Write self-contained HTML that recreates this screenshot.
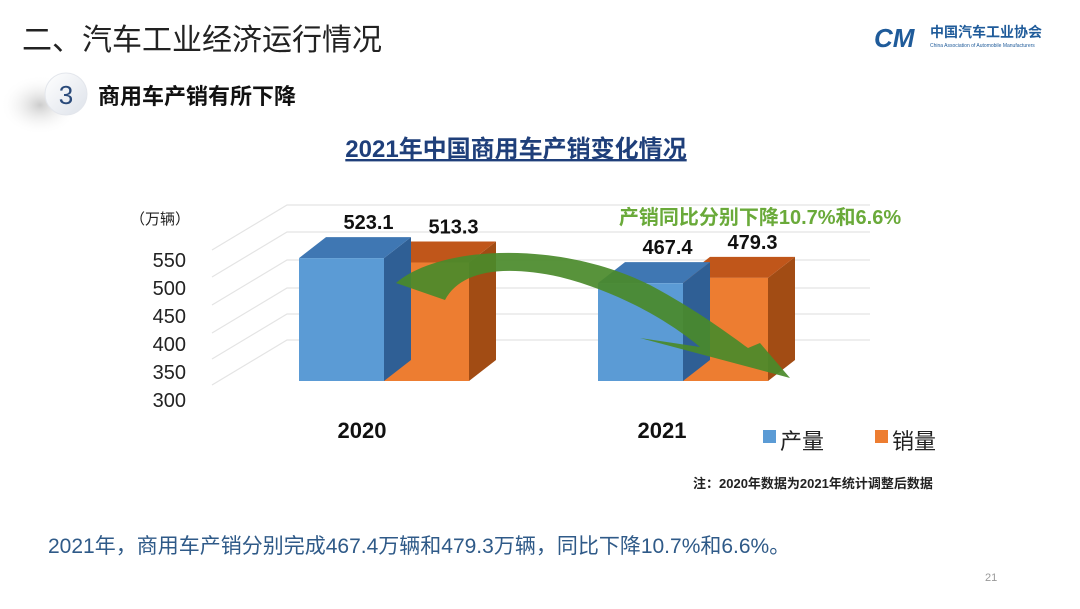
<!DOCTYPE html>
<html><head><meta charset="utf-8">
<style>
body{margin:0;width:1080px;height:604px;overflow:hidden;background:#fff;font-family:"Liberation Sans","Noto Sans CJK SC",sans-serif;}
svg text{font-family:"Liberation Sans","Noto Sans CJK SC",sans-serif;}
</style></head>
<body>
<svg width="1080" height="604" viewBox="0 0 1080 604">
<defs>
<radialGradient id="sh" cx="0.5" cy="0.5" r="0.5"><stop offset="0" stop-color="#ccc"/><stop offset="1" stop-color="#fff" stop-opacity="0"/></radialGradient>
<linearGradient id="circ" x1="0" y1="0" x2="1" y2="1"><stop offset="0" stop-color="#fff"/><stop offset="1" stop-color="#dde2ea"/></linearGradient>
</defs>
<text x="22" y="50" font-size="30" fill="#222">二、汽车工业经济运行情况</text>
<g>
<text x="874" y="47" font-size="26" font-weight="bold" font-style="italic" fill="#1f5b9a">CM</text>
<text x="930" y="37" font-size="14" font-weight="bold" fill="#1f5b9a">中国汽车工业协会</text>
<text x="930" y="47" font-size="5" fill="#1f5b9a">China Association of Automobile Manufacturers</text>
</g>
<ellipse cx="40" cy="105" rx="40" ry="30" fill="url(#sh)"/>
<circle cx="66" cy="94" r="21" fill="url(#circ)" stroke="#e3e6ec"/>
<text x="66" y="104" font-size="26" fill="#2a4a7a" text-anchor="middle">3</text>
<text x="98" y="104" font-size="22" font-weight="bold" fill="#111">商用车产销有所下降</text>
<text x="516" y="157" font-size="24" font-weight="bold" fill="#1f3f7a" text-anchor="middle" text-decoration="underline">2021年中国商用车产销变化情况</text>
<text x="130" y="224" font-size="15" fill="#222">（万辆）</text>
<g id="grid"></g>
<g id="yt"></g>
<g id="bars"></g>
<path d="M396,283 C440,245 560,240 650,285 C700,312 730,335 748,348 L760,343 L790,378 L640,338 L700,347 C670,322 620,292 560,277 C500,264 460,272 445,300 Z" fill="#4a8a2a" opacity="0.92"/>
<text x="760" y="224" font-size="20" font-weight="bold" fill="#6aaa3a" text-anchor="middle">产销同比分别下降10.7%和6.6%</text>
<g id="xl"></g>
<g>
<rect x="763" y="430" width="13" height="13" fill="#5b9bd5"/>
<text x="780" y="449" font-size="22" fill="#222">产量</text>
<rect x="875" y="430" width="13" height="13" fill="#ed7d31"/>
<text x="892" y="449" font-size="22" fill="#222">销量</text>
</g>
<text x="693" y="488" font-size="13" font-family="Liberation Serif,Noto Serif CJK SC,serif" font-weight="bold" fill="#222">注：2020年数据为2021年统计调整后数据</text>
<text x="48" y="553" font-size="21" fill="#2f5a88">2021年，商用车产销分别完成467.4万辆和479.3万辆，同比下降10.7%和6.6%。</text>
<text x="985" y="581" font-size="11" fill="#999">21</text>
</svg>
<script>
const categories=["2020","2021"];
const production=[523.1,467.4];
const sales=[513.3,479.3];
const yTicks=[550,500,450,400,350,300];
const NS="http://www.w3.org/2000/svg";
function mk(tag,attrs,parent){const e=document.createElementNS(NS,tag);for(const k in attrs)e.setAttribute(k,attrs[k]);parent.appendChild(e);return e;}
function tickY(v){return 260+(550-v)*(140/250);}
const base=381,baseVal=250,k=0.45;
function barY(v){return base-(v-baseVal)*k;}
const grid=document.getElementById('grid'),yt=document.getElementById('yt'),bars=document.getElementById('bars'),xl=document.getElementById('xl');
const gridYs=[205,232,260,288,314,340];
gridYs.forEach(gy=>{const p=mk('path',{d:`M212,${gy+45} L287,${gy} L870,${gy}`,stroke:'#e4e4e4','stroke-width':1.2,fill:'none'},grid);});
yTicks.forEach(v=>{const t=mk('text',{x:186,y:tickY(v)+7,'font-size':20,fill:'#222','text-anchor':'end'},yt);t.textContent=v;});
const groupX=[299,598],bw=85,dx=27,dy=-21;
function bar3d(x,v,front,top,side,name,lab){
  const y=barY(v);const g=mk('g',{},bars);
  
  mk('polygon',{points:`${x+bw},${y} ${x+bw+dx},${y+dy} ${x+bw+dx},${base+dy} ${x+bw},${base}`,fill:side},g);
  mk('polygon',{points:`${x},${y} ${x+dx},${y+dy} ${x+bw+dx},${y+dy} ${x+bw},${y}`,fill:top},g);
  mk('rect',{x:x,y:y,width:bw,height:base-y,fill:front},g);
  const t=mk('text',{x:x+bw/2+dx,y:y+dy-8,'font-size':20,'font-weight':'bold',fill:'#111','text-anchor':'middle'},bars);
  t.textContent=lab;
}
categories.forEach((c,i)=>{
  const x=groupX[i];
  bar3d(x+bw,sales[i],'#ed7d31','#c0561a','#a24c14','bar-sales-'+c,sales[i].toFixed(1));
  bar3d(x,production[i],'#5b9bd5','#3f77b3','#2f5f95','bar-production-'+c,production[i].toFixed(1));
  const t=mk('text',{x:x+63+(i?1:0),y:438,'font-size':22,'font-weight':'bold',fill:'#111','text-anchor':'middle'},xl);
  t.textContent=c;
});
</script>
</body></html>
